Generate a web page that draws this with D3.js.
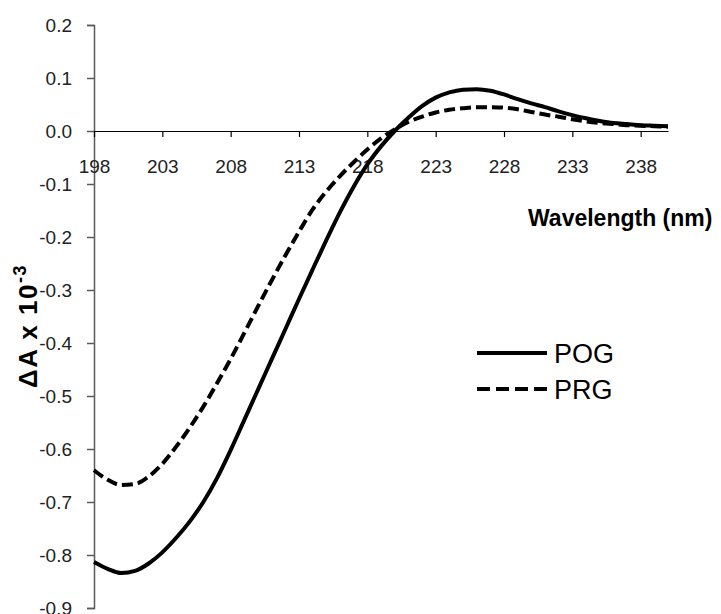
<!DOCTYPE html>
<html>
<head>
<meta charset="utf-8">
<script src="https://cdn.jsdelivr.net/npm/d3@7"></script>
<style>
  body { margin: 0; background: #ffffff; }
  svg text { font-family: "Liberation Sans", Arial, sans-serif; }
</style>
</head>
<body>
<svg id="chart" width="721" height="614"></svg>
<script>
// wavelength (nm), one reading per nm
const wavelengths = d3.range(198, 241);

// POG, solid line (delta A x 10^-3)
const pogValues = [
  -0.813, -0.826, -0.834, -0.830, -0.816, -0.795, -0.768, -0.737, -0.700, -0.655,
  -0.602, -0.545, -0.488, -0.431, -0.374, -0.317, -0.261, -0.206, -0.153, -0.105,
  -0.063, -0.029, 0.000, 0.025, 0.047, 0.063, 0.073, 0.078, 0.079, 0.076,
  0.069, 0.060, 0.052, 0.045, 0.037, 0.030, 0.024, 0.019, 0.015, 0.013,
  0.011, 0.010, 0.009
];

// PRG, dashed line
const prgValues = [
  -0.640, -0.658, -0.668, -0.666, -0.652, -0.628, -0.596, -0.560, -0.520, -0.476,
  -0.430, -0.381, -0.331, -0.282, -0.235, -0.190, -0.148, -0.114, -0.085, -0.059,
  -0.035, -0.014, 0.003, 0.017, 0.027, 0.035, 0.040, 0.043, 0.045, 0.045,
  0.044, 0.041, 0.036, 0.031, 0.027, 0.022, 0.018, 0.015, 0.013, 0.011,
  0.010, 0.009, 0.008
];

const xTicks = [198, 203, 208, 213, 218, 223, 228, 233, 238];
const yTicks = [0.2, 0.1, 0.0, -0.1, -0.2, -0.3, -0.4, -0.5, -0.6, -0.7, -0.8, -0.9];
const seriesNames = ["POG", "PRG"];

let svg = d3.select("#chart");

let x = d3.scaleLinear().domain([198, 240]).range([94, 668]);
let y = d3.scaleLinear().domain([-0.9, 0.2]).range([608, 25]);

// y axis on the left
let yAxis = d3.axisLeft(y).tickValues(yTicks).tickSize(7).tickPadding(15);
let yg = svg.append("g").attr("transform", `translate(${x(198)},0)`).call(yAxis);
yg.select("path").attr("stroke", "#5a5a5a").attr("stroke-width", 1.5);
yg.selectAll("line").attr("stroke", "#5a5a5a").attr("stroke-width", 1.5);
yg.selectAll("text").attr("font-size", 19).attr("fill", "#222")
  .attr("font-family", "'Liberation Sans', Arial, sans-serif")
  .text(d => d3.format(".1f")(d).replace("−", "-"));

// x axis crossing at zero
let xAxis = d3.axisBottom(x).tickValues(xTicks).tickSize(6).tickPadding(23).tickSizeOuter(0);
let xg = svg.append("g").attr("transform", `translate(0,${y(0)})`).call(xAxis);
xg.select("path").attr("stroke", "#000").attr("stroke-width", 1.2);
xg.selectAll("line").attr("stroke", "#000").attr("stroke-width", 1.2);
xg.selectAll("text").attr("font-size", 19).attr("fill", "#222")
  .attr("font-family", "'Liberation Sans', Arial, sans-serif");

// curves
let line = d3.line()
  .x((d, i) => x(wavelengths[i]))
  .y(d => y(d))
  .curve(d3.curveMonotoneX);

svg.append("path").datum(prgValues)
  .attr("d", line)
  .attr("fill", "none")
  .attr("stroke", "#000")
  .attr("stroke-width", 4)
  .attr("stroke-dasharray", "11,5");

svg.append("path").datum(pogValues)
  .attr("d", line)
  .attr("fill", "none")
  .attr("stroke", "#000")
  .attr("stroke-width", 4);

// axis titles
svg.append("text")
  .attr("x", 528).attr("y", 226)
  .attr("font-size", 23).attr("font-weight", "bold")
  .text("Wavelength (nm)");

let ylab = svg.append("text")
  .attr("transform", "translate(37,326) rotate(-90)")
  .attr("text-anchor", "middle")
  .attr("font-size", 26).attr("font-weight", "bold")
  .attr("letter-spacing", 1.5);
ylab.append("tspan").text("ΔA x 10");
ylab.append("tspan").attr("dy", -11).attr("font-size", 18).text("-3");

// legend
let legend = svg.append("g");
seriesNames.forEach((name, i) => {
  let ly = 353 + i * 36;
  legend.append("line")
    .attr("x1", 477).attr("x2", 547).attr("y1", ly).attr("y2", ly)
    .attr("stroke", "#000").attr("stroke-width", 4)
    .attr("stroke-dasharray", i == 1 ? "13,6" : null);
  legend.append("text")
    .attr("x", 554).attr("y", ly + 10)
    .attr("font-size", 27)
    .text(name);
});
</script>
</body>
</html>
